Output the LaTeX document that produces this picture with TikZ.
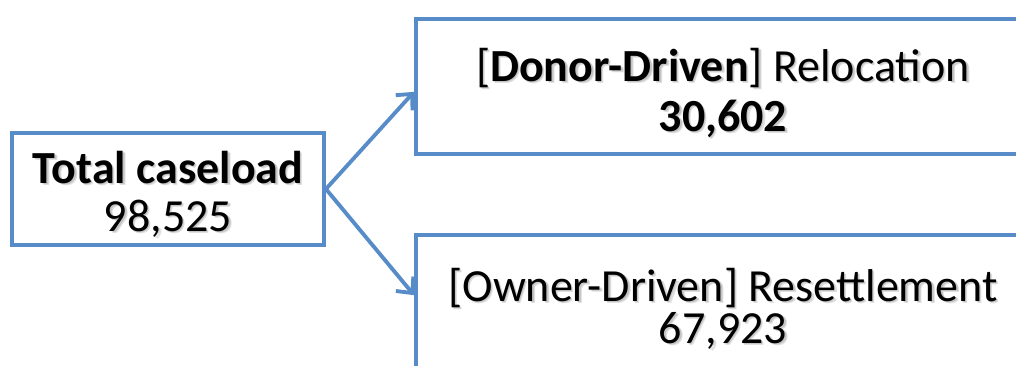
\documentclass[tikz,border=0pt]{standalone}
\usepackage{fontspec}
\setmainfont{Carlito}
\usetikzlibrary{arrows.meta}
\definecolor{boxblue}{RGB}{88,140,200}
\tikzset{
  box/.style={draw=boxblue, line width=2.9pt, fill=white, inner sep=0pt},
  link/.style={draw=boxblue, line width=2.9pt, line cap=round,
    -{Straight Barb[length=9pt, width=17pt, line width=2.9pt]}},
  txt/.style={anchor=base, inner sep=0pt, font=\fontsize{34.5}{40}\selectfont},
  shade/.style={txt, text=black, opacity=0.12},
}
% text with a soft drop shadow behind it
\newcommand{\shadowtext}[3]{%
  \node[shade] at ([xshift=1.0pt,yshift=-1.2pt]#2) {#3};
  \node[shade] at ([xshift=1.8pt,yshift=-2.0pt]#2) {#3};
  \node[txt] (#1) at (#2) {#3};
}
\begin{document}
\begin{tikzpicture}[x=0.75pt, y=-0.75pt]
\useasboundingbox (0,0) rectangle (1016,365);

% boxes
\node[box, minimum width=312*0.75pt, minimum height=112*0.75pt] (total) at (168,189) {};
\node[box, minimum width=615*0.75pt, minimum height=135*0.75pt] (donor) at (723.5,86.5) {};
\node[box, minimum width=615*0.75pt, minimum height=135*0.75pt] (owner) at (723.5,302.5) {};

% connectors
\draw[link] (total.east) -- ([yshift=-4pt]donor.west);
\draw[link] (total.east) -- ([yshift=5.5pt]owner.west);

% labels
\coordinate (t1) at (168,183);
\coordinate (t2) at (168,231);
\coordinate (d1) at (723,81);
\coordinate (d2) at (723,131);
\coordinate (o1) at (723,301);
\coordinate (o2) at (723,343);
\shadowtext{totaltitle}{t1}{\textbf{Total caseload}}
\shadowtext{totalnum}{t2}{98,525}
\shadowtext{donortitle}{d1}{[\textbf{Donor-Driven}] Relocation}
\shadowtext{donornum}{d2}{\textbf{30,602}}
\shadowtext{ownertitle}{o1}{[Owner-Driven] Resettlement}
\shadowtext{ownernum}{o2}{67,923}
\end{tikzpicture}
\end{document}
